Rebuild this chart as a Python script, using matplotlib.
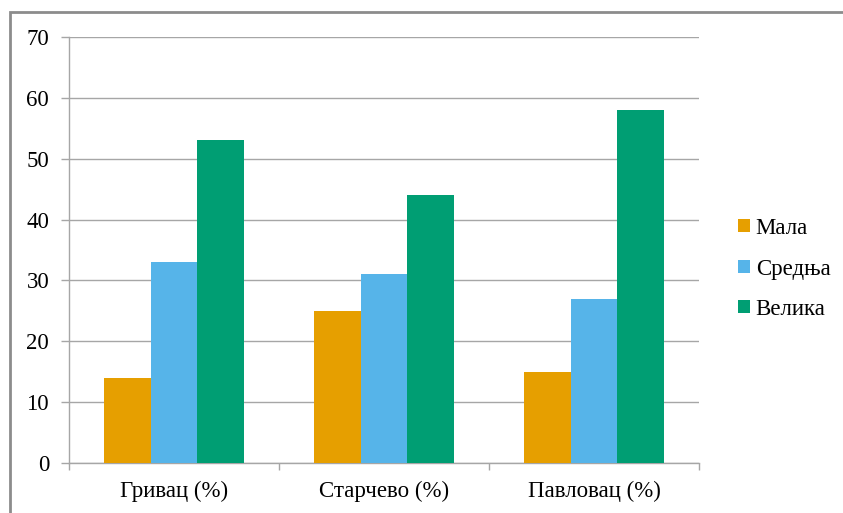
import matplotlib
matplotlib.use("Agg")
import matplotlib.pyplot as plt
from matplotlib.patches import Rectangle
import numpy as np

categories = ["Гривац (%)", "Старчево (%)", "Павловац (%)"]
series_names = ["Мала", "Средња", "Велика"]
mala = [14, 25, 15]
srednja = [33, 31, 27]
velika = [53, 44, 58]
colors = ["#E69F00", "#56B4E9", "#009E73"]
y_ticks = [0, 10, 20, 30, 40, 50, 60, 70]

plt.rcParams["font.family"] = ["Liberation Serif", "DejaVu Serif"]
fs = 16.5

fig = plt.figure(figsize=(8.43, 5.13), dpi=100)
ax = fig.add_axes([69 / 843, 1 - 463 / 513, 630 / 843, 426 / 513])

x = np.arange(len(categories))
w = 0.222
for i, (vals, name, c) in enumerate(zip([mala, srednja, velika], series_names, colors)):
    ax.bar(x + (i - 1) * w, vals, width=w, color=c, label=name, zorder=3)

ax.set_xlim(-0.5, len(categories) - 0.5)
ax.set_ylim(0, 70)
ax.set_yticks(y_ticks)
ax.set_yticklabels([str(v) for v in y_ticks], fontsize=fs)
ax.set_xticks(x)
ax.set_xticklabels(categories, fontsize=fs)
ax.set_xticks(np.arange(-0.5, len(categories)), minor=True)
ax.tick_params(axis="x", which="major", length=0, pad=13)
ax.tick_params(axis="x", which="minor", length=5, color="#a6a6a6", width=1)
ax.tick_params(axis="y", length=5.8, color="#a6a6a6", width=1, pad=8.5)
ax.grid(axis="y", color="#a6a6a6", linewidth=1, zorder=0)
for s in ["top", "right"]:
    ax.spines[s].set_visible(False)
for s in ["left", "bottom"]:
    ax.spines[s].set_color("#a6a6a6")
    ax.spines[s].set_linewidth(1)

ax.legend(loc="center left", bbox_to_anchor=(727 / 843, 1 - 269 / 513),
          bbox_transform=fig.transFigure, frameon=False, fontsize=fs,
          handlelength=0.5, handleheight=0.5, handletextpad=0.25,
          labelspacing=0.85, borderpad=0)

frame = Rectangle((10 / 843, -0.1), 1.2, 1 - 12 / 513 + 0.1, transform=fig.transFigure,
                  fill=False, edgecolor="#8c8c8c", linewidth=2, clip_on=False)
fig.patches.append(frame)

fig.savefig("out.png", dpi=100)
